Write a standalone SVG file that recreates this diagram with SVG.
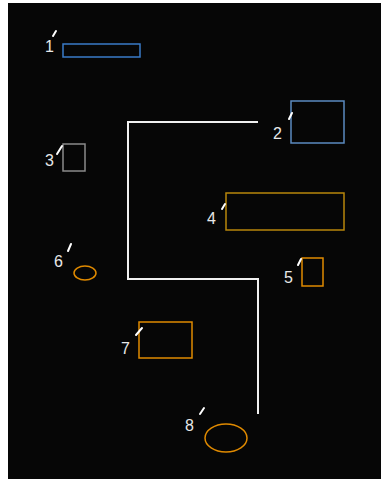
<svg xmlns="http://www.w3.org/2000/svg" width="385" height="479" viewBox="0 0 385 479">
<style>
.lbl{font-family:"Liberation Sans",Arial,sans-serif;font-size:16px;fill:#e8e8e8}
.tick{stroke:#ffffff;stroke-width:2;stroke-linecap:round;fill:none}
.conn{stroke:#f0f0f0;stroke-width:2;fill:none}
.blue{fill:none;stroke:#3a7bc8;stroke-width:1.5}
.blue2{fill:none;stroke:#5b8ac0;stroke-width:1.5}
.gray{fill:none;stroke:#8a8a8a;stroke-width:1.5}
.gold{fill:none;stroke:#b8860b;stroke-width:1.5}
.orange{fill:none;stroke:#e08a00;stroke-width:1.5}
</style>
<rect x="0" y="0" width="385" height="479" fill="#ffffff"/>
<rect x="8" y="3" width="373" height="476" fill="#060606"/>
<g id="connectors">
<polyline class="conn" points="258,122 128,122 128,279 258,279 258,414"/>
</g>
<g id="n1">
<rect class="blue" x="63" y="44" width="77" height="13"/>
<text class="lbl" x="45" y="52">1</text>
<path class="tick" d="M53,36 L56,31"/>
</g>
<g id="n2">
<rect class="blue2" x="291" y="101" width="53" height="42"/>
<text class="lbl" x="273" y="139">2</text>
<path class="tick" d="M289,119 L292,113"/>
</g>
<g id="n3">
<rect class="gray" x="63" y="144" width="22" height="27"/>
<text class="lbl" x="45" y="166">3</text>
<path class="tick" d="M57,154 L62,146"/>
</g>
<g id="n4">
<rect class="gold" x="226" y="193" width="118" height="37"/>
<text class="lbl" x="207" y="224">4</text>
<path class="tick" d="M222,209 L225,204"/>
</g>
<g id="n5">
<rect class="orange" x="302" y="258" width="21" height="28"/>
<text class="lbl" x="284" y="283">5</text>
<path class="tick" d="M298,265 L301,259"/>
</g>
<g id="n6">
<ellipse class="orange" cx="85" cy="273" rx="11" ry="7"/>
<text class="lbl" x="54" y="267">6</text>
<path class="tick" d="M68,251 L71,244"/>
</g>
<g id="n7">
<rect class="orange" x="139" y="322" width="53" height="36"/>
<text class="lbl" x="121" y="354">7</text>
<path class="tick" d="M136,335 L142,328"/>
</g>
<g id="n8">
<ellipse class="orange" cx="226" cy="438" rx="21" ry="14"/>
<text class="lbl" x="185" y="431">8</text>
<path class="tick" d="M200,414 L204,408"/>
</g>
</svg>
